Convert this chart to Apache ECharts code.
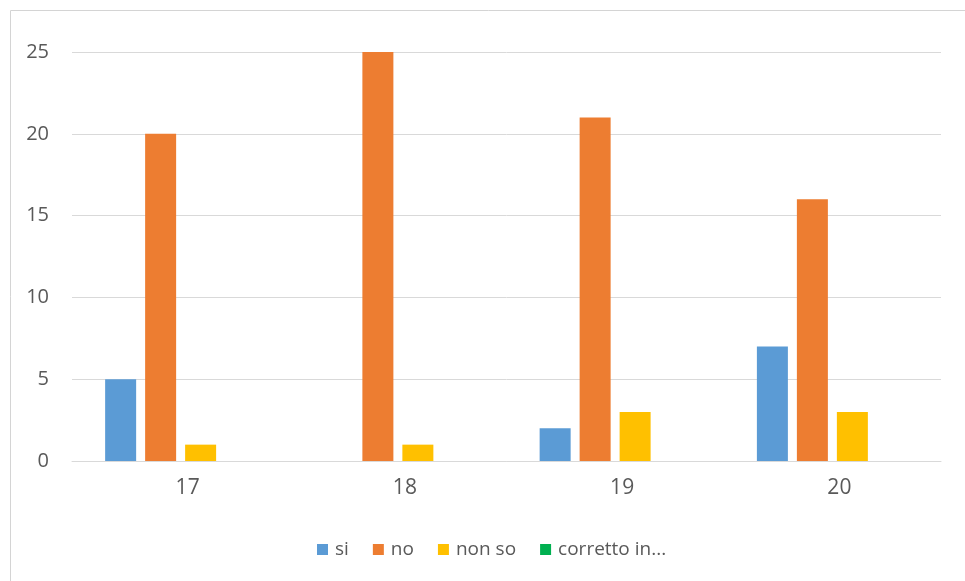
<!DOCTYPE html>
<html>
<head>
<meta charset="utf-8">
<script src="https://cdn.jsdelivr.net/npm/echarts@6/dist/echarts.min.js"></script>
<style>html,body{margin:0;padding:0;background:#fff;}#c{width:965px;height:581px;}</style>
</head>
<body>
<div id="c"></div>
<script>
const categories = ['17', '18', '19', '20'];
const siValues = [5, 0, 2, 7];
const noValues = [20, 25, 21, 16];
const nonSoValues = [1, 1, 3, 3];
const correttoValues = [0, 0, 0, 0];
const seriesNames = ['si', 'no', 'non so', 'corretto in...'];
const seriesColors = ['#5B9BD5', '#ED7D31', '#FFC000', '#00B050'];
const yTicks = { min: 0, max: 25, interval: 5 };

const chart = echarts.init(document.getElementById('c'), null, { renderer: 'canvas' });
const font = '"Open Sans", "Noto Sans", sans-serif';
const dataSets = [siValues, noValues, nonSoValues, correttoValues];
chart.setOption({
  animation: false,
  textStyle: { fontFamily: font },
  graphic: [{
    type: 'rect', left: 8, top: 8,
    shape: { x: 0, y: 0, width: 980, height: 600 },
    style: { fill: 'none', stroke: '#d4d4d4', lineWidth: 1 }
  }],
  grid: { left: 72, right: 24, top: 52, bottom: 120, containLabel: false },
  legend: {
    data: seriesNames,
    left: 312, top: 535,
    icon: 'rect', itemWidth: 11, itemHeight: 11, itemGap: 24,
    textStyle: { color: '#595959', fontSize: 19, fontFamily: font, padding: [0, 0, 0, 2] }
  },
  xAxis: {
    type: 'category', data: categories,
    axisLine: { lineStyle: { color: '#d9d9d9' } },
    axisTick: { show: false },
    axisLabel: { color: '#595959', fontSize: 21, margin: 17, fontFamily: font, padding: [0, 0, 0, 14] }
  },
  yAxis: {
    type: 'value', min: yTicks.min, max: yTicks.max, interval: yTicks.interval,
    axisLine: { show: false }, axisTick: { show: false },
    splitLine: { lineStyle: { color: '#d9d9d9' } },
    axisLabel: { color: '#595959', fontSize: 20, margin: 23, fontFamily: font }
  },
  series: seriesNames.map((n, i) => ({
    name: n, type: 'bar', data: dataSets[i],
    barWidth: 31, barGap: '29%',
    itemStyle: { color: seriesColors[i] }
  }))
});
</script>
</body>
</html>
